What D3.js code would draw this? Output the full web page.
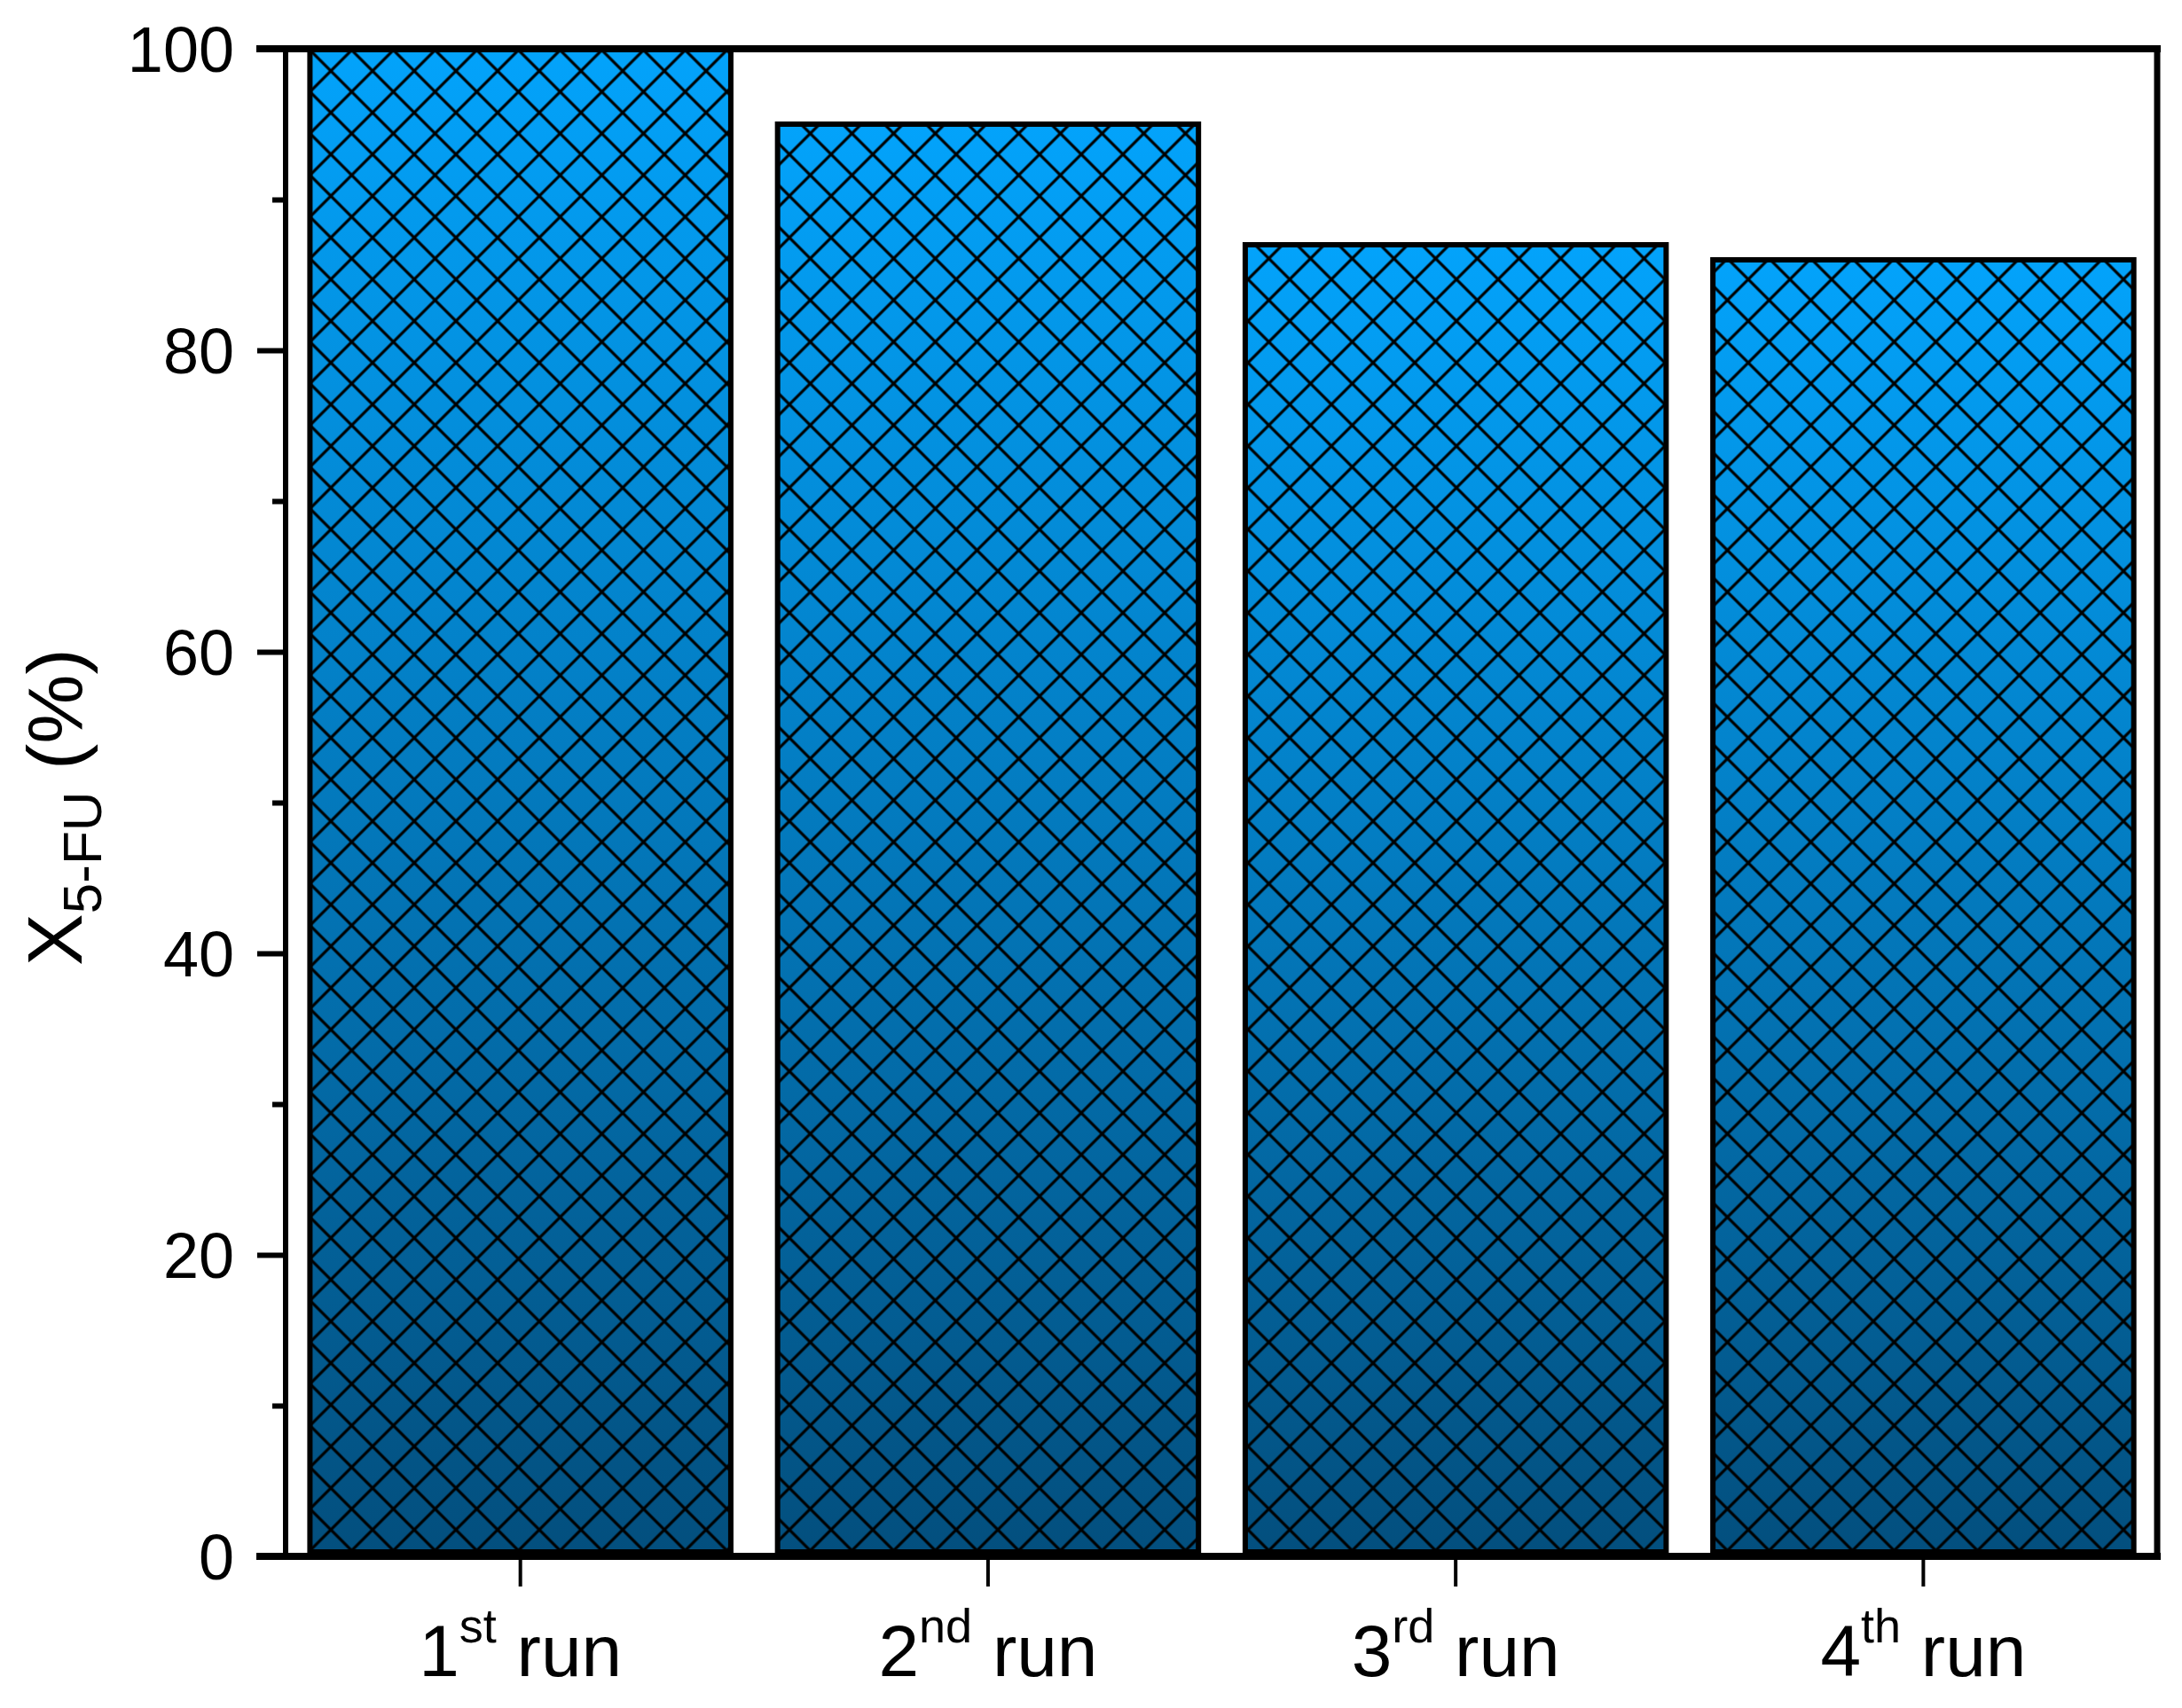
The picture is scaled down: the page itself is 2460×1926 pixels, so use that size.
<!DOCTYPE html>
<html>
<head>
<meta charset="utf-8">
<script src="https://cdn.jsdelivr.net/npm/d3@7"></script>
<style>
  body { margin: 0; background: #fff; }
  text { font-family: "Liberation Sans", Arial, sans-serif; fill: #000; }
</style>
</head>
<body>
<script>
// chart data
var runNumbers = ["1", "2", "3", "4"];
var runSuffixes = ["st", "nd", "rd", "th"];
var conversion = [100, 95, 87, 86];
var yTicks = [0, 20, 40, 60, 80, 100];

var svgWidth = 2460, svgHeight = 1926;
var plotLeft = 322, plotRight = 2432, plotTop = 55, plotBottom = 1755;

var svg = d3.select("body").append("svg")
  .attr("width", svgWidth)
  .attr("height", svgHeight);

var defs = svg.append("defs");

// vertical gradient for each bar
var grad = defs.append("linearGradient")
  .attr("id", "barGrad")
  .attr("x1", 0).attr("y1", 0).attr("x2", 0).attr("y2", 1);
grad.append("stop").attr("offset", "0%").attr("stop-color", "#03a3fb");
grad.append("stop").attr("offset", "100%").attr("stop-color", "#034f7e");

// crosshatch
var hatch = defs.append("pattern")
  .attr("id", "hatch")
  .attr("patternUnits", "userSpaceOnUse")
  .attr("x", 349.5).attr("y", 56.5)
  .attr("width", 47).attr("height", 47);
hatch.append("path")
  .attr("d", "M-2,-2L49,49M49,-2L-2,49")
  .attr("stroke", "#000")
  .attr("stroke-width", 3.2)
  .attr("fill", "none");

// scales: index positions so 1st bar sits at 586, step 527
var x = d3.scaleLinear().domain([-0.502, 3.5]).range([plotLeft, plotRight]);
var y = d3.scaleLinear().domain([0, 100]).range([plotBottom, plotTop]);
var barW = 0.9;

// bars
var bars = svg.append("g").selectAll("g")
  .data(conversion)
  .enter().append("g");

bars.append("rect")
  .attr("x", (d, i) => x(i - barW / 2))
  .attr("y", d => y(d))
  .attr("width", x(barW) - x(0))
  .attr("height", d => y(0) - 5 - y(d))
  .attr("fill", "url(#barGrad)");

bars.append("rect")
  .attr("x", (d, i) => x(i - barW / 2))
  .attr("y", d => y(d))
  .attr("width", x(barW) - x(0))
  .attr("height", d => y(0) - 5 - y(d))
  .attr("fill", "url(#hatch)")
  .attr("stroke", "#000")
  .attr("stroke-width", 6);

// frame
svg.append("line").attr("x1", 289).attr("x2", plotRight + 4).attr("y1", plotTop).attr("y2", plotTop)
  .attr("stroke", "#000").attr("stroke-width", 8);
svg.append("line").attr("x1", 289).attr("x2", plotRight + 4).attr("y1", plotBottom).attr("y2", plotBottom)
  .attr("stroke", "#000").attr("stroke-width", 8);
svg.append("line").attr("x1", plotRight).attr("x2", plotRight).attr("y1", plotTop).attr("y2", plotBottom)
  .attr("stroke", "#000").attr("stroke-width", 7);

// y axis
var yAxis = d3.axisLeft(y)
  .tickValues(d3.range(0, 101, 10))
  .tickSize(0)
  .tickFormat("");
var yg = svg.append("g").attr("transform", `translate(${plotLeft},0)`).call(yAxis);
yg.select(".domain").attr("stroke", "#000").attr("stroke-width", 6)
  .attr("d", `M0,${plotTop}V${plotBottom}`);
yg.selectAll(".tick line")
  .attr("stroke", "#000")
  .attr("stroke-width", 6)
  .attr("x2", d => (d % 20 === 0 ? -32 : -15));

svg.append("g").selectAll("text")
  .data(yTicks)
  .enter().append("text")
  .attr("x", 264)
  .attr("y", d => y(d) + 26)
  .attr("text-anchor", "end")
  .attr("font-size", 72)
  .text(d => d);

// x ticks
svg.append("g").selectAll("line")
  .data(conversion)
  .enter().append("line")
  .attr("x1", (d, i) => x(i)).attr("x2", (d, i) => x(i))
  .attr("y1", plotBottom).attr("y2", plotBottom + 34)
  .attr("stroke", "#000").attr("stroke-width", 4);

// x labels with superscript
var xl = svg.append("g").selectAll("text")
  .data(runNumbers)
  .enter().append("text")
  .attr("x", (d, i) => x(i))
  .attr("y", 1890)
  .attr("text-anchor", "middle")
  .attr("font-size", 82);
xl.append("tspan").text(d => d);
xl.append("tspan").attr("font-size", 54).attr("dy", -38).text((d, i) => runSuffixes[i]);
xl.append("tspan").attr("dy", 38).text(" run");

// y label
var yl = svg.append("text")
  .attr("transform", "translate(92,910) rotate(-90)")
  .attr("text-anchor", "middle")
  .attr("font-size", 88);
yl.append("tspan").text("X");
yl.append("tspan").attr("font-size", 62).attr("dy", 22).text("5-FU");
yl.append("tspan").attr("dy", -22).text(" (%)");
</script>
</body>
</html>
